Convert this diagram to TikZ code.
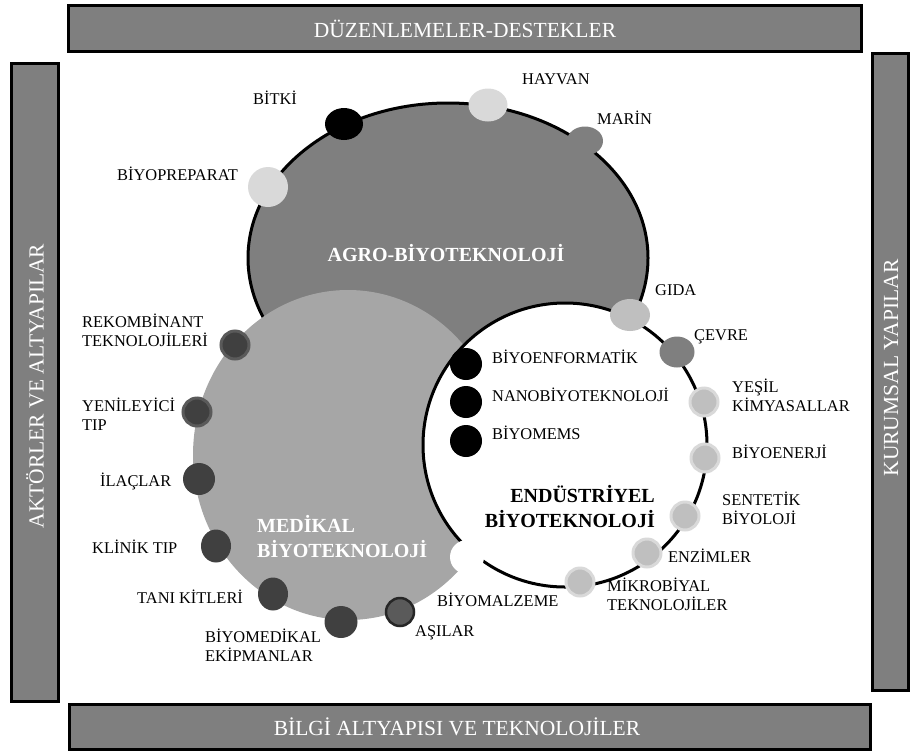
\documentclass[tikz,border=0pt]{standalone}
\usepackage{fontspec}
\setmainfont{Liberation Serif}
\usetikzlibrary{shapes.geometric}

\definecolor{agro}{HTML}{7F7F7F}
\definecolor{medi}{HTML}{A6A6A6}
\definecolor{dk}{HTML}{404040}
\definecolor{dkring}{HTML}{5A5A5A}
\definecolor{lt}{HTML}{D9D9D9}
\definecolor{mid}{HTML}{BFBFBF}

\begin{document}
\begin{tikzpicture}[x=1pt,y=-1pt,
  bar/.style={draw=black, line width=3pt, fill=agro, inner sep=0pt},
  bartext/.style={inner sep=0pt, text=white, font=\fontsize{21.5}{24}\selectfont},
  lbl/.style={anchor=west, inner sep=0pt, align=left, font=\fontsize{16.4}{19}\selectfont},
  areatitle/.style={inner sep=0pt, font=\bfseries\fontsize{20}{25}\selectfont},
  blob/.style={ellipse, inner sep=0pt},
  ringdot/.style={circle, inner sep=0pt, line width=3pt, minimum size=28pt},
]
\useasboundingbox (0,0) rectangle (912,755);

% ---- frame bars ----
\node[bar, minimum width=793pt, minimum height=46pt] (topbar) at (465,28.5) {};
\node[bartext] (toptext) at (465,29) {DÜZENLEMELER-DESTEKLER};
\node[bar, minimum width=801pt, minimum height=45pt] (botbar) at (470,727) {};
\node[bartext] (bottext) at (457,727) {BİLGİ ALTYAPISI VE TEKNOLOJİLER};
\node[bar, minimum width=47pt, minimum height=638pt] (leftbar) at (35,382.5) {};
\node[bartext, rotate=90] (lefttext) at (35,386) {AKTÖRLER VE ALTYAPILAR};
\node[bar, minimum width=36pt, minimum height=637pt] (rightbar) at (890.5,372) {};
\node[bartext, rotate=90] (righttext) at (891,368) {KURUMSAL YAPILAR};

% ---- agro-biotechnology area ----
\node[ellipse, draw=black, line width=3pt, fill=agro, inner sep=0pt,
      minimum width=400pt, minimum height=310pt] (agroarea) at (448,258) {};
\node[blob, fill=black, minimum width=38pt, minimum height=32pt] (bitkidot) at (344,124) {};
\node[blob, fill=lt, minimum width=39pt, minimum height=33pt] (hayvandot) at (488,105) {};
\node[blob, fill=agro, minimum width=36pt, minimum height=29pt] (marindot) at (585,141) {};
\node[blob, fill=lt, minimum width=40pt, minimum height=40pt] (biyoprepdot) at (268,187) {};

% ---- medical biotechnology area ----
\node[ellipse, fill=medi, inner sep=0pt, minimum width=310pt, minimum height=330pt] (mediarea) at (348,455) {};

% ---- industrial biotechnology area ----
\node[circle, draw=black, line width=3pt, fill=white, inner sep=0pt, minimum size=284pt] (induarea) at (565,445) {};

% medical dots
\node[ringdot, fill=dk, draw=dkring] (rekdot) at (235,345) {};
\node[ringdot, fill=dk, draw=dkring] (yenidot) at (197,412) {};
\node[blob, fill=dk, minimum width=32pt, minimum height=32pt] (ilacdot) at (199,479) {};
\node[blob, fill=dk, minimum width=30pt, minimum height=33pt] (klinikdot) at (216,546) {};
\node[blob, fill=dk, minimum width=30pt, minimum height=33pt] (tanidot) at (273,594) {};
\node[blob, fill=dk, minimum width=33pt, minimum height=32pt] (biyomeddot) at (341,622) {};
\node[circle, inner sep=0pt, fill=dkring, draw=black!85, line width=2.5pt, minimum size=28pt] (asidot) at (400,612) {};
\node[blob, fill=white, minimum width=34pt, minimum height=34pt] (biyomaldot) at (467,557) {};

% industrial dots
\node[blob, fill=mid, minimum width=40pt, minimum height=32pt] (gidadot) at (630,315) {};
\node[blob, fill=agro, minimum width=35pt, minimum height=31pt] (cevredot) at (677,352) {};
\node[ringdot, fill=mid, draw=lt] (yesildot) at (704,402) {};
\node[ringdot, fill=mid, draw=lt] (enerjidot) at (705,458) {};
\node[ringdot, fill=mid, draw=lt] (sentdot) at (685,516) {};
\node[ringdot, fill=mid, draw=lt] (enzimdot) at (647,553) {};
\node[ringdot, fill=mid, draw=lt] (mikrodot) at (580,582) {};
\node[circle, fill=black, inner sep=0pt, minimum size=32pt] (infodot) at (466,364) {};
\node[circle, fill=black, inner sep=0pt, minimum size=32pt] (nanodot) at (466,402) {};
\node[circle, fill=black, inner sep=0pt, minimum size=32pt] (memsdot) at (466,441) {};

% ---- area titles ----
\node[areatitle, text=white] (agrotitle) at (446,253) {AGRO-BİYOTEKNOLOJİ};
\node[areatitle, text=white, anchor=west, align=left] (meditle) at (257,537) {MEDİKAL\\BİYOTEKNOLOJİ};
\node[areatitle, anchor=east, align=right] (indutitle) at (655,507) {ENDÜSTRİYEL\\BİYOTEKNOLOJİ};

% ---- labels ----
\node[lbl] (bitki) at (253,98) {BİTKİ};
\node[lbl] (hayvan) at (522,79) {HAYVAN};
\node[lbl] (marin) at (597,118) {MARİN};
\node[lbl] (biyoprep) at (117,174) {BİYOPREPARAT};

\node[lbl] (rek) at (82,330) {REKOMBİNANT\\TEKNOLOJİLERİ};
\node[lbl] (yeni) at (82,414) {YENİLEYİCİ\\TIP};
\node[lbl] (ilac) at (100,481) {İLAÇLAR};
\node[lbl] (klinik) at (92,547) {KLİNİK TIP};
\node[lbl] (tani) at (137,597) {TANI KİTLERİ};
\node[lbl] (biyomed) at (205,645) {BİYOMEDİKAL\\EKİPMANLAR};
\node[lbl] (asi) at (415,633) {AŞILAR};
\node[lbl] (biyomal) at (437,600) {BİYOMALZEME};

\node[lbl] (gida) at (655,290) {GIDA};
\node[lbl] (cevre) at (694,337) {ÇEVRE};
\node[lbl] (yesil) at (732,395) {YEŞİL\\KİMYASALLAR};
\node[lbl] (enerji) at (732,452) {BİYOENERJİ};
\node[lbl] (sent) at (722,508) {SENTETİK\\BİYOLOJİ};
\node[lbl] (enzim) at (668,556) {ENZİMLER};
\node[lbl] (mikro) at (607,594) {MİKROBİYAL\\TEKNOLOJİLER};
\node[lbl] (info) at (492,357) {BİYOENFORMATİK};
\node[lbl] (nano) at (492,395) {NANOBİYOTEKNOLOJİ};
\node[lbl] (mems) at (492,433) {BİYOMEMS};
\end{tikzpicture}
\end{document}
